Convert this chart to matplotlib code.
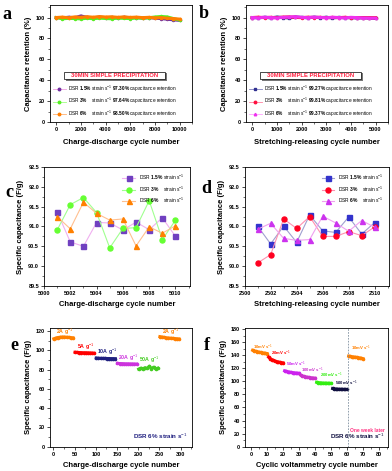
import numpy as np
import matplotlib
matplotlib.use('Agg')
import matplotlib.pyplot as plt
from matplotlib.patches import Rectangle
from matplotlib.ticker import MultipleLocator

plt.rcParams['font.family'] = ['Liberation Sans', 'DejaVu Sans']
plt.rcParams['mathtext.fontset'] = 'custom'
plt.rcParams['mathtext.rm'] = 'Liberation Sans'
plt.rcParams['mathtext.bf'] = 'Liberation Sans:bold'
plt.rcParams['axes.linewidth'] = 0.6

# ---- a: charge-discharge retention (every 500 cycles)
cyc_a = [0, 500, 1000, 1500, 2000, 2500, 3000, 3500, 4000, 4500, 5000,
         5500, 6000, 6500, 7000, 7500, 8000, 8500, 9000, 9500, 10000]
ret_a_15 = [100.0, 99.6, 100.3, 99.8, 101.5, 100.2, 99.7, 100.4, 99.9, 100.1, 99.6,
            100.3, 99.8, 100.0, 99.5, 99.9, 99.4, 99.0, 98.4, 97.8, 97.3]
ret_a_3 = [100.0, 98.8, 99.2, 99.0, 98.7, 99.3, 98.9, 99.4, 99.1, 98.8, 99.5,
           99.2, 99.0, 99.6, 99.3, 99.8, 100.5, 101.0, 100.6, 99.0, 97.6]
ret_a_6 = [100.0, 100.4, 99.8, 100.6, 100.2, 100.8, 100.3, 100.9, 100.5, 100.7, 100.2,
           100.6, 100.1, 100.4, 99.9, 100.2, 99.7, 99.9, 99.3, 99.0, 98.5]
final_a = ['97.30', '97.64', '98.50']

# ---- b: stretching-releasing retention (every 250 cycles)
cyc_b = [0, 250, 500, 750, 1000, 1250, 1500, 1750, 2000, 2250, 2500,
         2750, 3000, 3250, 3500, 3750, 4000, 4250, 4500, 4750, 5000]
ret_b_15 = [100.0, 99.8, 100.2, 99.7, 100.4, 100.0, 99.6, 100.5, 100.1, 99.8, 100.3,
            99.9, 100.2, 99.7, 100.1, 99.8, 100.0, 99.6, 99.8, 99.5, 99.27]
ret_b_3 = [100.0, 100.3, 99.9, 100.2, 99.8, 100.4, 100.6, 100.1, 99.9, 100.3, 100.0,
           100.2, 99.8, 100.1, 99.9, 100.2, 99.8, 100.0, 99.9, 99.85, 99.81]
ret_b_6 = [100.0, 99.7, 100.3, 100.0, 99.6, 100.2, 100.5, 100.8, 100.2, 99.9, 100.4,
           100.1, 99.8, 100.3, 100.0, 99.7, 100.2, 99.9, 99.6, 99.5, 99.37]
final_b = ['99.27', '99.81', '99.37']

# ---- c: specific capacitance, cycles 5001-5010
cyc_c = [5001, 5002, 5003, 5004, 5005, 5006, 5007, 5008, 5009, 5010]
cap_c_15 = [91.37, 90.61, 90.50, 91.10, 91.09, 90.91, 91.11, 90.92, 91.22, 90.75]
cap_c_3 = [90.91, 91.55, 91.73, 91.35, 90.46, 90.95, 90.97, 91.65, 90.67, 91.16]
cap_c_6 = [91.25, 90.94, 91.61, 91.33, 91.16, 91.19, 90.51, 90.99, 90.83, 91.02]

# ---- d: specific capacitance, cycles 2501-2510
cyc_d = [2501, 2502, 2503, 2504, 2505, 2506, 2507, 2508, 2509, 2510]
cap_d_15 = [91.01, 90.56, 91.01, 90.60, 91.29, 90.89, 90.85, 91.24, 90.81, 91.10]
cap_d_3 = [90.08, 90.29, 91.19, 90.95, 91.25, 90.75, 90.75, 90.87, 90.77, 90.99]
cap_d_6 = [90.93, 91.08, 90.70, 90.65, 90.67, 91.26, 91.09, 90.88, 91.15, 90.98]

# ---- e: rate test, 50 cycles per current density (every 5 cycles)
rate_e = ['2A', '5A', '10A', '20A', '50A', '2A']
cap_e = [
    [112.0, 112.8, 113.3, 113.6, 113.8, 113.8, 113.6, 113.4, 113.2, 113.0],
    [98.0, 97.8, 97.7, 97.6, 97.5, 97.5, 97.4, 97.3, 97.2, 97.0],
    [92.0, 91.8, 91.7, 91.6, 91.6, 91.5, 91.5, 91.4, 91.4, 91.3],
    [86.5, 86.3, 86.2, 86.1, 86.0, 86.0, 85.9, 85.9, 85.8, 85.8],
    [80.5, 81.5, 80.8, 82.0, 81.2, 83.5, 81.0, 82.5, 80.6, 81.5],
    [114.2, 113.8, 113.4, 113.0, 112.8, 112.6, 112.4, 112.2, 112.0, 111.8],
]

# ---- f: CV at scan rates, 10 cycles each
rate_f = ['10mV', '20mV', '50mV', '100mV', '200mV', '500mV', '10mV']
cap_f = [
    [147.5, 146.5, 145.8, 145.2, 144.6, 144.1, 143.6, 143.2, 142.8, 142.5],
    [137.0, 134.8, 133.2, 132.0, 131.0, 130.2, 129.6, 129.0, 128.6, 128.2],
    [116.0, 115.2, 114.6, 114.1, 113.7, 113.3, 113.0, 112.7, 112.4, 112.2],
    [109.5, 108.3, 107.5, 106.9, 106.4, 106.0, 105.6, 105.3, 105.0, 104.8],
    [98.5, 98.0, 97.7, 97.5, 97.3, 97.2, 97.1, 97.0, 96.9, 96.8],
    [89.0, 88.5, 88.2, 88.0, 87.9, 87.8, 87.7, 87.6, 87.5, 87.5],
    [138.5, 138.0, 137.6, 137.3, 137.0, 136.6, 136.2, 135.7, 135.2, 134.6],
]

strains = ['1.5', '3', '6']


def style_ax(ax, xmaj, xmin, ymaj, ymin):
    ax.xaxis.set_major_locator(MultipleLocator(xmaj))
    ax.xaxis.set_minor_locator(MultipleLocator(xmin))
    ax.yaxis.set_major_locator(MultipleLocator(ymaj))
    ax.yaxis.set_minor_locator(MultipleLocator(ymin))
    ax.tick_params(which='major', direction='out', length=2, width=0.5, labelsize=4, pad=1.5)
    ax.tick_params(which='minor', direction='out', length=1.2, width=0.4)
    for lab in ax.get_xticklabels() + ax.get_yticklabels():
        lab.set_fontweight('bold')


def strain_label(s, extra=''):
    pad = '   ' if s != '1.5' else ''
    return r'DSR $\mathbf{' + s + r'\%}$ ' + pad + r'strain s$^{-1}$' + extra


def title_box(ax):
    ax.add_patch(Rectangle((0.112, 0.352), 0.71, 0.065, transform=ax.transAxes,
                           fc='#777777', ec='none', zorder=4))
    ax.add_patch(Rectangle((0.099, 0.365), 0.71, 0.065, transform=ax.transAxes,
                           fc='white', ec='black', lw=0.5, zorder=5))
    ax.text(0.454, 0.397, '30MIN SIMPLE PRECIPITATION', transform=ax.transAxes,
            ha='center', va='center', color='#FF2040', fontsize=4.2,
            fontweight='bold', zorder=6)


def retention_legend(ax):
    ax.legend(loc='upper left', bbox_to_anchor=(0.0, 0.355), frameon=False, fontsize=3.4,
              handlelength=2.6, handletextpad=0.6, labelspacing=0.45, borderpad=0.2)


fig = plt.figure(figsize=(3.92, 4.71), dpi=100)

ax_a = fig.add_axes([0.1276, 0.741, 0.362, 0.2484])
ax_b = fig.add_axes([0.6276, 0.741, 0.362, 0.2484])
ax_c = fig.add_axes([0.1122, 0.3928, 0.3724, 0.2527])
ax_d = fig.add_axes([0.624, 0.3928, 0.3684, 0.2527])
ax_e = fig.add_axes([0.1276, 0.0516, 0.3615, 0.2527])
ax_f = fig.add_axes([0.625, 0.0516, 0.3648, 0.2527])

# a
cols_a = [('#F0A0E0', '#7030A0'), ('#A0FF80', '#55EE22'), ('#FFB070', '#FF7F00')]
for ys, (lc, mc), s, fin in zip([ret_a_15, ret_a_3, ret_a_6], cols_a, strains, final_a):
    ax_a.plot(cyc_a, ys, color=mc, lw=2.2, marker='o', ms=1.5, mfc=mc, mec=mc)
    ax_a.plot([], [], color=lc, lw=0.6, marker='o', ms=1.8, mfc=mc, mec=mc,
              label=strain_label(s, r' $\mathbf{' + fin + r'\%}$ capacitance retention'))
ax_a.set_xlim(-500, 11000)
ax_a.set_ylim(0, 112)
style_ax(ax_a, 2000, 1000, 20, 10)
ax_a.set_xlabel('Charge-discharge cycle number', fontsize=5.5, fontweight='bold', labelpad=5)
ax_a.set_ylabel('Capacitance retention (%)', fontsize=5.5, fontweight='bold', labelpad=3)
title_box(ax_a)
retention_legend(ax_a)

# b
cols_b = [('#8080C0', '#303090'), ('#FF80A0', '#FF1040'), ('#FFA0FF', '#EE30EE')]
for ys, (lc, mc), s, fin in zip([ret_b_15, ret_b_3, ret_b_6], cols_b, strains, final_b):
    mk = {'1.5': 's', '3': 'o', '6': '^'}[s]
    ax_b.plot(cyc_b, ys, color=mc, lw=2.2, marker=mk, ms=1.5, mfc=mc, mec=mc)
    ax_b.plot([], [], color=lc, lw=0.6, marker=mk, ms=1.8, mfc=mc, mec=mc,
              label=strain_label(s, r' $\mathbf{' + fin + r'\%}$ capacitance retention'))
ax_b.set_xlim(-250, 5500)
ax_b.set_ylim(0, 112)
style_ax(ax_b, 1000, 500, 20, 10)
ax_b.set_xlabel('Stretching-releasing cycle number', fontsize=5.5, fontweight='bold', labelpad=5)
ax_b.set_ylabel('Capacitance retention (%)', fontsize=5.5, fontweight='bold', labelpad=3)
title_box(ax_b)
retention_legend(ax_b)

# c
cols_c = [('#F0B0F0', '#7040C0', 's'), ('#A0FF90', '#66FF33', 'o'), ('#FFC090', '#FF8000', '^')]
for ys, (lc, mc, mk), s in zip([cap_c_15, cap_c_3, cap_c_6], cols_c, strains):
    ax_c.plot(cyc_c, ys, color=lc, lw=0.8, marker=mk, ms=3.6, mfc=mc, mec=mc,
              label=strain_label(s))
ax_c.set_xlim(5000, 5011.1)
ax_c.set_ylim(89.5, 92.5)
ax_c.yaxis.set_major_formatter('{x:.1f}')
style_ax(ax_c, 2, 1, 0.5, 0.25)
ax_c.set_xlabel('Charge-discharge cycle number', fontsize=5.5, fontweight='bold', labelpad=4)
ax_c.set_ylabel('Specific capacitance (F/g)', fontsize=5.5, fontweight='bold', labelpad=3)
ax_c.legend(loc='upper right', bbox_to_anchor=(0.99, 0.99), frameon=False, fontsize=3.5,
            handlelength=2.5, labelspacing=0.5)

# d
cols_d = [('#A0A0D0', '#3333CC', 's'), ('#FF90B0', '#FF0020', 'o'), ('#F0A0F0', '#CC33EE', '^')]
for ys, (lc, mc, mk), s in zip([cap_d_15, cap_d_3, cap_d_6], cols_d, strains):
    ax_d.plot(cyc_d, ys, color=lc, lw=0.8, marker=mk, ms=3.6, mfc=mc, mec=mc,
              label=strain_label(s))
ax_d.set_xlim(2500, 2511.1)
ax_d.set_ylim(89.5, 92.5)
ax_d.yaxis.set_major_formatter('{x:.1f}')
style_ax(ax_d, 2, 1, 0.5, 0.25)
ax_d.set_xlabel('Stretching-releasing cycle number', fontsize=5.5, fontweight='bold', labelpad=4)
ax_d.set_ylabel('Specific capacitance (F/g)', fontsize=5.5, fontweight='bold', labelpad=3)
ax_d.legend(loc='upper right', bbox_to_anchor=(0.99, 0.99), frameon=False, fontsize=3.5,
            handlelength=2.5, labelspacing=0.5)

# e
cols_e = ['#FF8000', '#FF0000', '#202080', '#CC33DD', '#44CC22', '#FF8000']
lab_dy = [5, 6, 6, 6, 7, 5]
for i, (ys, c, r) in enumerate(zip(cap_e, cols_e, rate_e)):
    xs = np.arange(1, 51, 5) + 50 * i
    ax_e.plot(xs, ys, color=c, lw=2.2, marker='o', ms=1.6, mfc=c, mec=c)
    ax_e.text(xs[5], max(ys) + lab_dy[i], r + r' g$^{-1}$', color=c, fontsize=3.8,
              fontweight='bold', ha='center', va='center')
ax_e.text(0.97, 0.05, r'DSR $\mathbf{6\%}$ strain s$^{-1}$', transform=ax_e.transAxes,
          color='#202080', fontsize=4.5, fontweight='bold', ha='right', va='bottom')
ax_e.set_xlim(-8, 326)
ax_e.set_ylim(0, 123.5)
style_ax(ax_e, 50, 25, 20, 10)
ax_e.set_xlabel('Charge-discharge cycle number', fontsize=5.5, fontweight='bold', labelpad=4)
ax_e.set_ylabel('Specific capacitance (F/g)', fontsize=5.5, fontweight='bold', labelpad=3)

# f
cols_f = ['#FF8000', '#FF0000', '#CC22EE', '#CC33CC', '#33EE11', '#101040', '#FF8000']
lab_dx = [0.5, 1.5, 1.0, 0.5, 2.0, 1.5, 1.5]
lab_dy = [5, 6, 10.5, 8, 10, 8.5, 12]
for i, (ys, c, r) in enumerate(zip(cap_f, cols_f, rate_f)):
    xs = np.arange(1, 11) + 10 * i
    ax_f.plot(xs, ys, color=c, lw=2.2, marker='o', ms=1.6, mfc=c, mec=c)
    ax_f.text(xs[0] + lab_dx[i], ys[0] + lab_dy[i], r + r' s$^{-1}$', color=c,
              fontsize=3.1, fontweight='bold', ha='left', va='center')
ax_f.axvline(60.5, color='#8090A0', ls=(0, (2, 1.5)), lw=0.6)
ax_f.text(62, 25, 'One week later', color='#FF3080', fontsize=3.5, fontweight='bold',
          ha='left', va='center')
ax_f.text(0.98, 0.05, r'DSR $\mathbf{6\%}$ strain s$^{-1}$', transform=ax_f.transAxes,
          color='#101040', fontsize=4.5, fontweight='bold', ha='right', va='bottom')
ax_f.set_xlim(-3.75, 85.6)
ax_f.set_ylim(0, 182)
style_ax(ax_f, 10, 5, 20, 10)
ax_f.set_xlabel('Cyclic voltammetry cycle number', fontsize=5.5, fontweight='bold', labelpad=4)
ax_f.set_ylabel('Specific capacitance (F/g)', fontsize=5.5, fontweight='bold', labelpad=3)

# panel letters
for lt, px, py in [('a', 2, 19), ('b', 199, 18), ('c', 5, 197), ('d', 201, 193),
                   ('e', 10, 350), ('f', 204, 350)]:
    fig.text(px / 392, 1 - py / 471, lt, fontsize=13, fontweight='bold',
             family='Liberation Serif', ha='left', va='baseline')

fig.savefig('out.png', dpi=100)
